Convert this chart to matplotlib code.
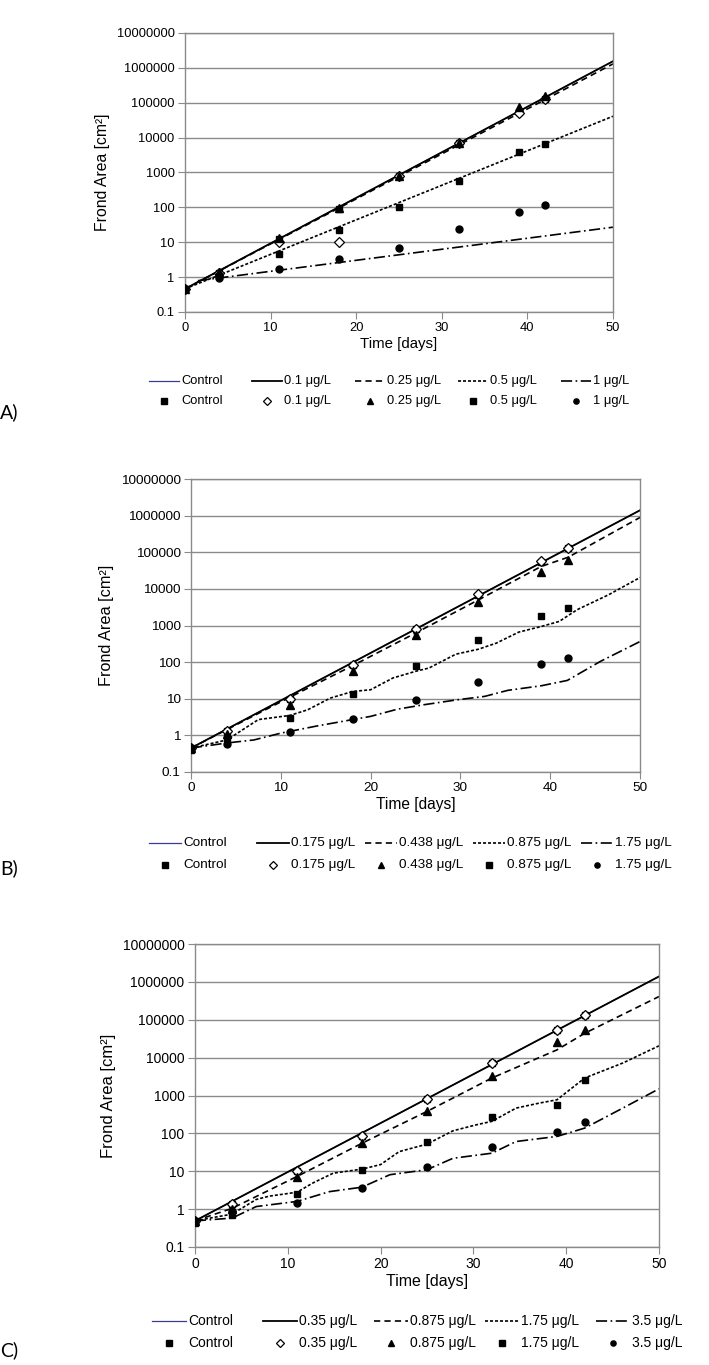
import matplotlib
matplotlib.use('Agg')
import matplotlib.pyplot as plt
from matplotlib.lines import Line2D

plt.rcParams['font.family'] = ['Liberation Sans', 'DejaVu Sans']
plt.rcParams['lines.scale_dashes'] = False

# sampling days of the measured frond area
days = [0, 4, 11, 18, 25, 32, 39, 42]
x_ticks = [0, 10, 20, 30, 40, 50]
y_ticks = [0.1, 1, 10, 100, 1000, 10000, 100000, 1000000, 10000000]
y_tick_labels = ['0.1', '1', '10', '100', '1000', '10000', '100000', '1000000', '10000000']

# ---- panel A (straight exponential fits) ----
a_conc = ['Control', '0.1 μg/L', '0.25 μg/L', '0.5 μg/L', '1 μg/L']
a_fit_x = [0, 50]
a_ctrl_fit = [0.46, 1.55e6]
a_c1_fit = [0.46, 1.55e6]
a_c2_fit = [0.46, 1.3e6]
a_c3_fit = [0.46, 4.1e4]
a_c4_x = [1.5, 50]
a_c4_fit = [0.79, 27]
a_ctrl_pts = [0.46, 1.3, 12, 88, 800, 7000, 55000, 130000]
a_c1_pts = [0.46, 1.3, 10, 10, 800, 7000, 51000, 125000]
a_c2_pts = [0.46, 1.4, 13, 95, 820, 7200, 75000, 155000]
a_c3_pts = [0.46, 1.1, 4.6, 23, 100, 580, 3800, 6450]
a_c4_pts = [0.46, 0.95, 1.7, 3.3, 6.7, 24.6, 72, 117]

# ---- panel B ----
b_conc = ['Control', '0.175 μg/L', '0.438 μg/L', '0.875 μg/L', '1.75 μg/L']
b_ctrl_x = [0, 50]
b_ctrl_fit = [0.45, 1.4e6]
b_c1_x = [0, 50]
b_c1_fit = [0.45, 1.4e6]
b_c2_x = [0, 11, 18, 25, 32, 39, 42, 50]
b_c2_fit = [0.45, 11, 80, 620, 5000, 41000, 73000, 890000]
b_c3_x = [0, 4, 7.5, 11, 13, 15.5, 18, 20, 22.5, 25, 26.5, 29.5, 32, 34, 36.5, 39, 41, 43, 46.5, 50]
b_c3_fit = [0.45, 0.75, 2.7, 3.5, 5, 10.4, 15.8, 17.6, 37, 56, 69, 165, 225, 330, 660, 940, 1290,
            2700, 6900, 20400]
b_c4_x = [0, 4, 7, 10, 14, 18, 20, 23, 26, 29.7, 32.7, 35.3, 39, 41.9, 45.6, 50]
b_c4_fit = [0.45, 0.62, 0.75, 1.15, 1.8, 2.7, 3.3, 5.2, 6.9, 9.4, 11.6, 17, 22.6, 31.6, 105, 365]
b_ctrl_pts = [0.45, 1.3, 10, 85, 800, 7000, 55000, 130000]
b_c1_pts = [0.45, 1.29, 10, 85, 810, 7100, 56000, 129000]
b_c2_pts = [0.45, 1.1, 6.9, 58, 560, 4250, 28000, 62000]
b_c3_pts = [0.39, 0.85, 3.0, 13.7, 76, 407, 1770, 3100]
b_c4_pts = [0.45, 0.59, 1.23, 2.8, 9.4, 28, 89, 129]

# ---- panel C ----
c_conc = ['Control', '0.35 μg/L', '0.875 μg/L', '1.75 μg/L', '3.5 μg/L']
c_ctrl_x = [0, 50]
c_ctrl_fit = [0.49, 1.39e6]
c_c1_x = [0, 50]
c_c1_fit = [0.49, 1.39e6]
c_c2_x = [0, 4, 11, 18, 25, 32, 39, 42, 50]
c_c2_fit = [0.49, 1.05, 7.3, 55, 380, 2900, 16000, 44000, 410000]
c_c3_x = [0, 4, 6.6, 8, 11, 12.7, 14.9, 18, 20, 22, 25, 27.8, 30.3, 32, 34.6, 37.1, 39, 42, 46.1, 50]
c_c3_fit = [0.49, 0.74, 1.8, 2.2, 2.8, 4.9, 8.9, 11.4, 15, 33, 52, 117, 168, 208, 465, 630, 770,
            2900, 7200, 20500]
c_c4_x = [0, 4, 6.6, 11, 14.5, 18, 21, 25, 27.8, 32, 34.6, 39, 42, 46.1, 50]
c_c4_fit = [0.49, 0.58, 1.17, 1.6, 2.9, 3.8, 8.1, 11, 22, 30, 61, 83, 138, 465, 1500]
c_ctrl_pts = [0.49, 1.35, 10.3, 87, 820, 7200, 55000, 130000]
c_c1_pts = [0.49, 1.35, 10.3, 87, 820, 7200, 55000, 130000]
c_c2_pts = [0.49, 1.0, 6.9, 55, 380, 3300, 26000, 53000]
c_c3_pts = [0.43, 0.68, 2.5, 11, 59, 270, 550, 2500]
c_c4_pts = [0.49, 0.87, 1.44, 3.6, 12.8, 45, 112, 195]

W, H = 709, 1365
GREY = '#8a8a8a'
line_styles = [
    dict(color='#3c3c96', lw=0.9, ls='-'),
    dict(color='black', lw=1.3, ls='-'),
    dict(color='black', lw=1.2, ls=(0, (4.5, 3))),
    dict(color='black', lw=1.2, ls=(0, (2.2, 1.4))),
    dict(color='black', lw=1.2, ls=(0, (8, 2.5, 1.2, 2.5))),
]
marker_styles = [
    dict(marker='s', mfc='black', mec='black'),
    dict(marker='D', mfc='white', mec='black', mew=0.9),
    dict(marker='^', mfc='black', mec='black'),
    dict(marker='s', mfc='black', mec='black'),
    dict(marker='o', mfc='black', mec='black'),
]
marker_sizes = [5, 5, 5.5, 5, 5]

fig = plt.figure(figsize=(W / 100, H / 100), dpi=100)


def fx(px):
    return px / W


def fy(py):
    return 1 - py / H


def draw_legend(conc, x0, col_w, hl, row1, row2, fs):
    # Excel style legend: equal column widths, lines on top row, markers below
    for i in range(5):
        xs = x0 + i * col_w
        fig.add_artist(Line2D([fx(xs), fx(xs + hl)], [fy(row1), fy(row1)],
                              transform=fig.transFigure, **line_styles[i]))
        fig.add_artist(Line2D([fx(xs + hl / 2)], [fy(row2)], transform=fig.transFigure,
                              ls='none', ms=marker_sizes[i] * 0.75, **marker_styles[i]))
        fig.text(fx(xs + hl + 2), fy(row1), conc[i], fontsize=fs, va='center', ha='left')
        fig.text(fx(xs + hl + 2), fy(row2), conc[i], fontsize=fs, va='center', ha='left')


def draw_panel(rect, conc, fits, pts, tag, tag_y, fs):
    ax = fig.add_axes(rect)
    ax.set_yscale('log')
    ax.set_xlim(0, 50)
    ax.set_ylim(0.1, 1e7)
    for y in y_ticks:
        ax.axhline(y, color=GREY, lw=1, zorder=0)
    for (lx, ly), st in zip(fits, line_styles):
        ax.plot(lx, ly, zorder=2, **st)
    for p, st, ms in zip(pts, marker_styles, marker_sizes):
        ax.plot(days, p, ls='none', ms=ms, zorder=3, **st)

    ax.set_xticks(x_ticks)
    ax.set_yticks(y_ticks)
    ax.set_yticklabels(y_tick_labels)
    ax.minorticks_off()
    ax.tick_params(direction='out', length=5, width=0.8, pad=2.5, color=GREY, labelsize=fs)
    for sp in ax.spines.values():
        sp.set_color(GREY)
        sp.set_linewidth(1)
    ax.set_xlabel('Time [days]', fontsize=fs + 1.5, labelpad=2)
    ax.set_ylabel('Frond Area [cm²]', fontsize=fs + 2, labelpad=5)
    fig.text(0.0, tag_y, tag, fontsize=14, family=['Lato', 'DejaVu Sans'], va='center', ha='left')
    return ax


draw_panel([fx(185), fy(312), (613 - 185) / W, (312 - 33) / H], a_conc,
           [(a_fit_x, a_ctrl_fit), (a_fit_x, a_c1_fit), (a_fit_x, a_c2_fit),
            (a_fit_x, a_c3_fit), (a_c4_x, a_c4_fit)],
           [a_ctrl_pts, a_c1_pts, a_c2_pts, a_c3_pts, a_c4_pts],
           'A)', fy(412), 9.3)
draw_legend(a_conc, 149, 103, 30, 381, 401, 9.3)

draw_panel([fx(191), fy(772), (640 - 191) / W, (772 - 479) / H], b_conc,
           [(b_ctrl_x, b_ctrl_fit), (b_c1_x, b_c1_fit), (b_c2_x, b_c2_fit),
            (b_c3_x, b_c3_fit), (b_c4_x, b_c4_fit)],
           [b_ctrl_pts, b_c1_pts, b_c2_pts, b_c3_pts, b_c4_pts],
           'B)', fy(868), 9.7)
draw_legend(b_conc, 149, 108, 32, 843, 865, 9.7)

draw_panel([fx(195), fy(1247), (659 - 195) / W, (1247 - 944) / H], c_conc,
           [(c_ctrl_x, c_ctrl_fit), (c_c1_x, c_c1_fit), (c_c2_x, c_c2_fit),
            (c_c3_x, c_c3_fit), (c_c4_x, c_c4_fit)],
           [c_ctrl_pts, c_c1_pts, c_c2_pts, c_c3_pts, c_c4_pts],
           'C)', fy(1350), 10)
draw_legend(c_conc, 152, 111, 34, 1321, 1343, 10)

fig.savefig('out.png', dpi=100)
